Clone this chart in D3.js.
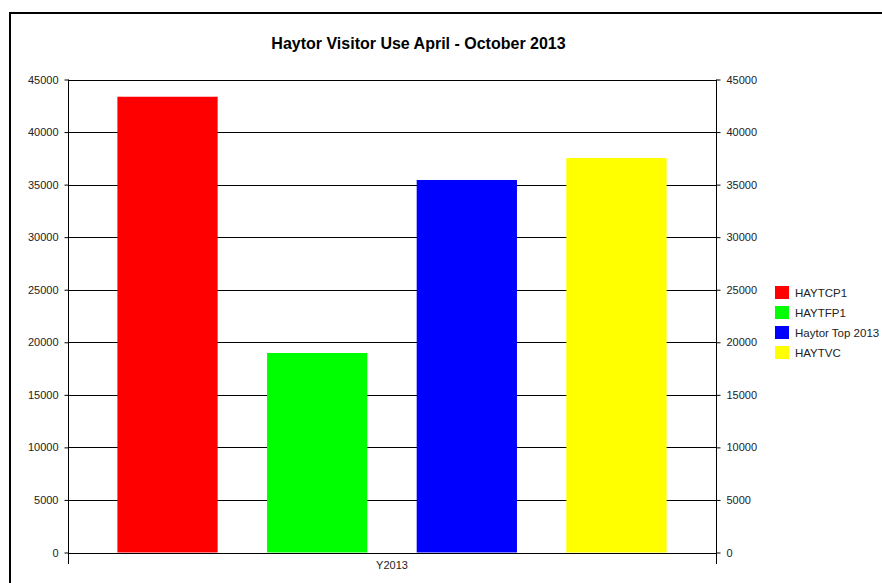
<!DOCTYPE html>
<html>
<head>
<meta charset="utf-8">
<script src="https://cdn.jsdelivr.net/npm/d3@7"></script>
<style>
  html, body { margin: 0; padding: 0; background: #fff; }
  svg { display: block; font-family: "Liberation Sans", Arial, sans-serif; }
</style>
</head>
<body>
<svg id="chart" width="882" height="583"></svg>
<script>
const title = "Haytor Visitor Use April - October 2013";
const category = "Y2013";
const seriesNames = ["HAYTCP1", "HAYTFP1", "Haytor Top 2013", "HAYTVC"];
const seriesValues = [43360, 18980, 35440, 37530];
const seriesColors = ["#ff0000", "#00ff00", "#0000ff", "#ffff00"];
const yTicks = [0, 5000, 10000, 15000, 20000, 25000, 30000, 35000, 40000, 45000];

const svg = d3.select("#chart");
const pL = 68, pR = 716, pT = 79.5, pB = 552.5;

// outer frame
svg.append("rect").attr("x", 10).attr("y", 13).attr("width", 900).attr("height", 600)
  .attr("fill", "none").attr("stroke", "#000").attr("stroke-width", 2);

const y = d3.scaleLinear().domain([0, 45000]).range([pB, pT]);
const x = d3.scaleBand().domain(seriesNames).range([pL, pR]).paddingInner(0.33).paddingOuter(0.33);

// gridlines
svg.append("g").selectAll("line").data(yTicks.filter(d => d > 0)).join("line")
  .attr("x1", pL).attr("x2", pR)
  .attr("y1", d => Math.round(y(d)) + 0.5).attr("y2", d => Math.round(y(d)) + 0.5)
  .attr("stroke", "#000").attr("stroke-width", 1);

// bars
svg.append("g").selectAll("rect").data(seriesNames).join("rect")
  .attr("x", d => x(d))
  .attr("y", (d, i) => y(seriesValues[i]))
  .attr("width", x.bandwidth())
  .attr("height", (d, i) => pB - y(seriesValues[i]))
  .attr("fill", (d, i) => seriesColors[i]);

// axes
const yAxisL = d3.axisLeft(y).tickValues(yTicks).tickSize(4).tickPadding(6).tickFormat(d3.format("d"));
const yAxisR = d3.axisRight(y).tickValues(yTicks).tickSize(4).tickPadding(6).tickFormat(d3.format("d"));
const gl = svg.append("g").attr("transform", `translate(${pL + 0.5},0)`).call(yAxisL);
const gr = svg.append("g").attr("transform", `translate(${pR + 0.5},0)`).call(yAxisR);
[gl, gr].forEach(g => {
  g.select(".domain").remove();
  g.selectAll(".tick line").attr("stroke", "#000");
  g.selectAll(".tick text").attr("fill", "#222").style("font-size", "11px")
    .style("font-family", "'Liberation Sans', Arial, sans-serif");
});
// vertical axis lines extending below zero
[pL, pR].forEach(xx => {
  svg.append("line").attr("x1", xx + 0.5).attr("x2", xx + 0.5).attr("y1", pT).attr("y2", 564)
    .attr("stroke", "#000").attr("stroke-width", 1);
});
// baseline
svg.append("line").attr("x1", pL).attr("x2", pR)
  .attr("y1", Math.round(pB) + 0.5).attr("y2", Math.round(pB) + 0.5)
  .attr("stroke", "#000").attr("stroke-width", 1);

// category label
svg.append("text").attr("x", (pL + pR) / 2).attr("y", 569).attr("text-anchor", "middle")
  .style("font-size", "11px").attr("fill", "#222").text(category);

// title
svg.append("text").attr("x", 418.5).attr("y", 48.5).attr("text-anchor", "middle")
  .style("font-size", "16px").style("font-weight", "bold").attr("fill", "#000").text(title);

// legend
const lg = svg.append("g").attr("transform", "translate(775,286)");
const items = lg.selectAll("g").data(seriesNames).join("g")
  .attr("transform", (d, i) => `translate(0,${i * 20})`);
items.append("rect").attr("width", 14).attr("height", 13).attr("fill", (d, i) => seriesColors[i]);
items.append("text").attr("x", 20).attr("y", 10.5).style("font-size", "11.5px").attr("fill", "#222").text(d => d);
</script>
</body>
</html>
